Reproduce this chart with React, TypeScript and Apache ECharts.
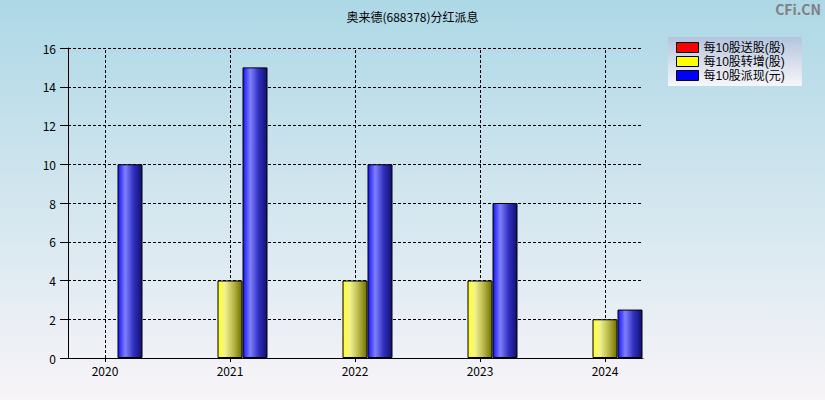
import * as echarts from 'echarts';
import React, { useEffect, useRef } from 'react';

const years = ['2020', '2021', '2022', '2023', '2024'];
const bonusShares = [0, 0, 0, 0, 0]; // 每10股送股(股)
const transferShares = [0, 4, 4, 4, 2]; // 每10股转增(股)
const cashDividend = [10, 15, 10, 8, 2.5]; // 每10股派现(元)
const seriesNames = ['每10股送股(股)', '每10股转增(股)', '每10股派现(元)'];
const legendColors = ['#ff0000', '#ffff00', '#0000ff'];

const FONT = "'Noto Sans CJK SC', 'Noto Sans', sans-serif";
const LEGEND_FONT = "'Liberation Sans', 'Noto Sans CJK SC', sans-serif";

const barGradient = (stops: string[]) =>
  new echarts.graphic.LinearGradient(0, 0, 1, 0, [
    { offset: 0, color: stops[0] },
    { offset: 0.08, color: stops[1] },
    { offset: 0.3, color: stops[2] },
    { offset: 0.65, color: stops[3] },
    { offset: 1, color: stops[4] },
  ]);

const App: React.FC = () => {
  const ref = useRef<HTMLDivElement>(null);
  const chart = useRef<echarts.ECharts>();

  useEffect(() => {
    document.body.style.margin = '0';
    chart.current = echarts.init(ref.current, null, { renderer: 'svg' });

    const toData = (arr: number[]) => arr.map((v) => (v === 0 ? null : v));
    const gradients = [
      barGradient(['#d01010', '#ff3030', '#ff8080', '#c03030', '#701010']),
      barGradient(['#f0f020', '#ffff40', '#f0f090', '#b8b848', '#707000']),
      barGradient(['#1818d0', '#3030ff', '#8080ff', '#3030c0', '#101070']),
    ];
    const values = [bonusShares, transferShares, cashDividend];

    chart.current.setOption({
      animation: false,
      backgroundColor: new echarts.graphic.LinearGradient(0, 0, 0, 1, [
        { offset: 0, color: '#add8e6' },
        { offset: 1, color: '#f8f4f8' },
      ]),
      textStyle: { fontFamily: FONT },
      title: {
        text: '奥来德(688378)分红派息',
        left: 'center',
        top: 5,
        textStyle: { fontSize: 12, fontWeight: 'normal', color: '#000', fontFamily: FONT },
      },
      graphic: [
        {
          type: 'text',
          right: 4,
          top: 2,
          style: { text: 'CFi.CN', fontSize: 14, fontWeight: 'bold', fill: '#808080', fontFamily: FONT },
        },
      ],
      legend: {
        orient: 'vertical',
        left: 668,
        top: 37,
        width: 130,
        padding: [4, 17, 4, 8],
        itemGap: 1,
        itemWidth: 22,
        itemHeight: 10,
        backgroundColor: new echarts.graphic.LinearGradient(0, 0, 0, 1, [
          { offset: 0, color: '#b4c4de' },
          { offset: 1, color: '#f8f6fa' },
        ]),
        textStyle: { fontSize: 12, color: '#000', lineHeight: 13, fontFamily: LEGEND_FONT },
        data: seriesNames.map((name, i) => ({
          name,
          icon: 'rect',
          itemStyle: { color: legendColors[i], borderColor: '#000', borderWidth: 1 },
        })),
      },
      grid: [
        { left: 68, top: 48, width: 575, height: 310 },
        { left: 42.5, top: 48, width: 625, height: 310 },
      ],
      xAxis: [
        {
          gridIndex: 0,
          type: 'value',
          min: 0,
          max: 1,
          axisLine: { show: true, lineStyle: { color: '#000', width: 1 } },
          axisTick: { show: false },
          axisLabel: { show: false },
          splitLine: { show: false },
        },
        {
          gridIndex: 1,
          type: 'category',
          data: years,
          axisLine: { show: false },
          axisTick: { show: true, alignWithLabel: true, length: 4, lineStyle: { color: '#000' } },
          axisLabel: { fontSize: 12, color: '#000', margin: 6, fontFamily: FONT },
          splitLine: { show: false },
        },
      ],
      yAxis: [
        {
          gridIndex: 0,
          type: 'value',
          min: 0,
          max: 16,
          interval: 2,
          axisLine: { show: true, lineStyle: { color: '#000', width: 1 } },
          axisTick: { show: true, length: 8, lineStyle: { color: '#000' } },
          axisLabel: { fontSize: 12, color: '#000', margin: 12, fontFamily: FONT },
          splitLine: { show: true, lineStyle: { color: '#000', type: [3, 2], width: 1 } },
        },
        {
          gridIndex: 1,
          type: 'value',
          min: 0,
          max: 16,
          show: false,
        },
      ],
      series: seriesNames.map((name, i) => ({
        name,
        type: 'bar',
        xAxisIndex: 1,
        yAxisIndex: 1,
        barWidth: 25,
        barGap: '0%',
        data: toData(values[i]),
        itemStyle: { color: gradients[i], borderColor: '#000', borderWidth: 1 },
        ...(i === 1
          ? {
              markLine: {
                silent: true,
                symbol: 'none',
                label: { show: false },
                lineStyle: { color: '#000', type: [3, 2], width: 1 },
                data: years.map((y) => ({ xAxis: y })),
                z: 1,
              },
            }
          : {}),
        z: 3,
      })),
    });

    return () => {
      chart.current?.dispose();
    };
  }, []);

  return <div ref={ref} style={{ width: 825, height: 400 }}></div>;
};

export default App;
